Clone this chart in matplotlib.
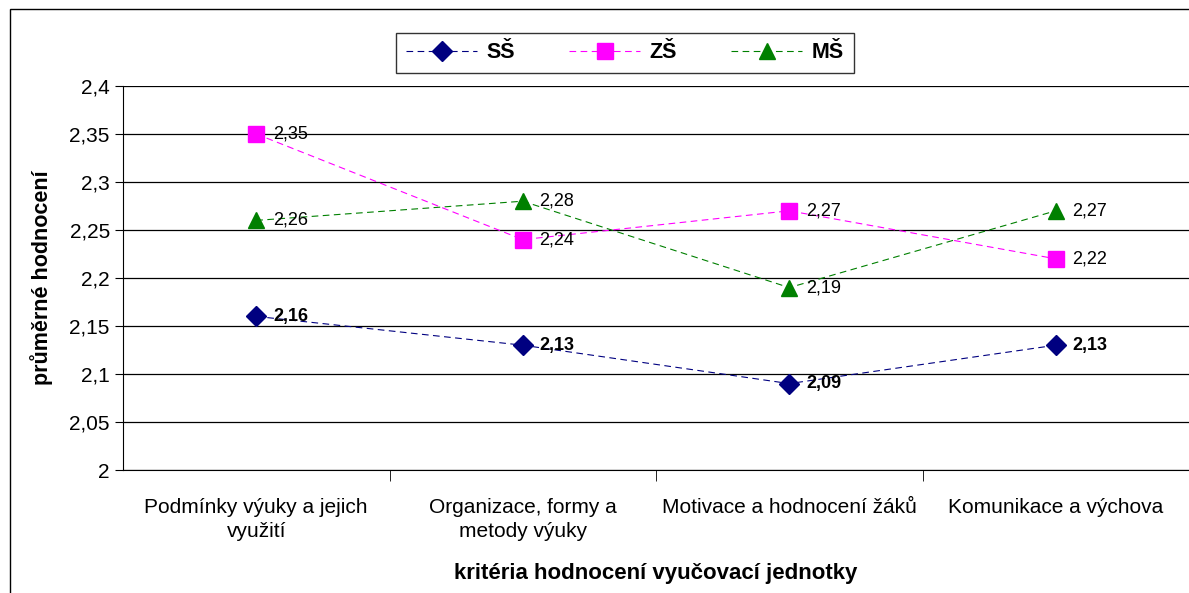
import numpy as np
import matplotlib.pyplot as plt
import matplotlib.patches as patches
from matplotlib.ticker import FuncFormatter

plt.rcParams['font.family'] = ['Liberation Sans', 'DejaVu Sans']

kategorie = ["Podmínky výuky a jejich\nvyužití", "Organizace, formy a\nmetody výuky",
             "Motivace a hodnocení žáků", "Komunikace a výchova"]
ss = [2.16, 2.13, 2.09, 2.13]
zs = [2.35, 2.24, 2.27, 2.22]
ms = [2.26, 2.28, 2.19, 2.27]

fig = plt.figure(figsize=(11.89, 5.93), dpi=100)
ax = fig.add_axes([123/1189, 1-470/593, 1-123/1189, (470-86)/593])

x = np.arange(len(kategorie))
serie = [("SŠ", ss, "#000080", "D", 10, "bold"),
         ("ZŠ", zs, "#FF00FF", "s", 11, "normal"),
         ("MŠ", ms, "#008000", "^", 12, "normal")]
for nazev, y, barva, mk, ms_, w in serie:
    ax.plot(x, y, linestyle=(0, (6, 4)), linewidth=0.8, color=barva, marker=mk,
            markersize=ms_, markerfacecolor=barva, markeredgecolor=barva, label=nazev)
    for xi, yi in zip(x, y):
        ax.annotate(f"{yi:.2f}".replace(".", ","), (xi, yi), xytext=(12, 0),
                    textcoords="offset points", va="center", ha="left",
                    fontsize=13, fontweight=w)

ax.set_xlim(-0.5, 3.5)
ax.set_ylim(2.0, 2.4)
ax.set_yticks(np.arange(2.0, 2.401, 0.05))
ax.yaxis.set_major_formatter(FuncFormatter(lambda v, p: f"{v:.2f}".rstrip("0").rstrip(".").replace(".", ",")))
ax.grid(axis="y", color="black", linewidth=0.9)
ax.set_axisbelow(True)
ax.set_xticks(x)
ax.set_xticklabels(kategorie, fontsize=15, linespacing=1.35)
ax.tick_params(axis="x", length=0, pad=20)
ax.set_xticks([0.5, 1.5, 2.5], minor=True)
ax.tick_params(axis="x", which="minor", length=8, color="black")
ax.tick_params(axis="y", labelsize=15, length=6)
for s in ["top", "right"]:
    ax.spines[s].set_visible(False)
ax.spines["left"].set_color("black")
ax.spines["bottom"].set_color("black")

ax.set_ylabel("průměrné hodnocení", fontsize=15.5, fontweight="bold", labelpad=12)
ax.set_xlabel("kritéria hodnocení vyučovací jednotky", fontsize=16, fontweight="bold", labelpad=16)

leg = fig.legend(loc="center", bbox_to_anchor=(625/1189, 1-53/593), ncol=3, frameon=True,
                 fancybox=False, edgecolor="black", handlelength=3.3, handletextpad=0.45,
                 columnspacing=2.5, borderpad=0.45, prop={"weight": "bold", "size": 15.5})
leg.get_frame().set_linewidth(1.0)

fig.patches.append(patches.Rectangle((10/1189, -0.01), 1.1, 1-9/593 + 0.01,
                                     transform=fig.transFigure, fill=False,
                                     edgecolor="black", linewidth=1.0))

fig.savefig("out.png", dpi=100)
